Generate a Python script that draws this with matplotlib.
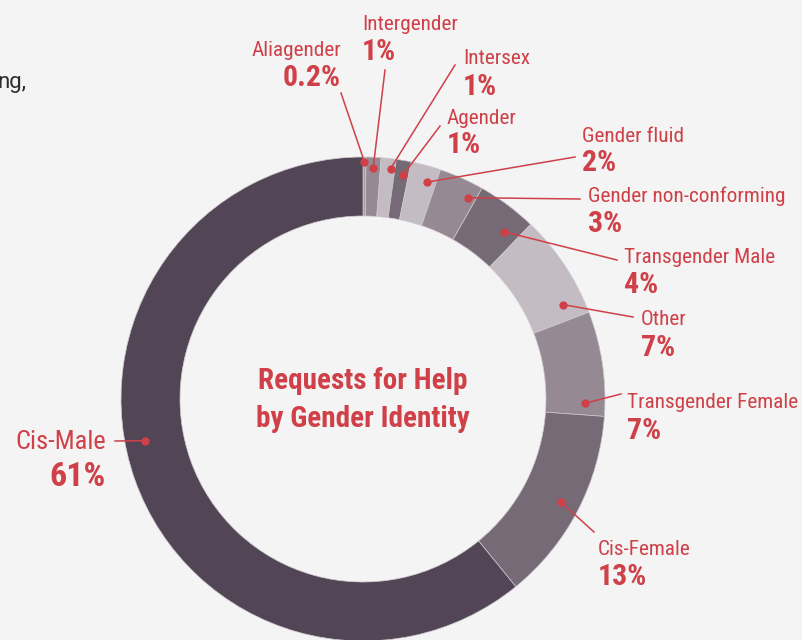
import numpy as np
import matplotlib
matplotlib.use("Agg")
from matplotlib import pyplot as plt
from matplotlib import font_manager

# data
labels = ['Aliagender', 'Intergender', 'Intersex', 'Agender', 'Gender fluid',
          'Gender non-conforming', 'Transgender Male', 'Other',
          'Transgender Female', 'Cis-Female', 'Cis-Male']
values = [0.2, 1, 1, 1, 2, 3, 4, 7, 7, 13, 61]
pct_text = ['0.2%', '1%', '1%', '1%', '2%', '3%', '4%', '7%', '7%', '13%', '61%']

colors = ['#a99fa8', '#958a93', '#c4bcc3', '#766a76', '#c4bcc3', '#958a93',
          '#766a76', '#c4bcc3', '#958a93', '#766a76', '#524656']

RED = '#cf4048'
BG = '#f3f4f3'
W, H = 803, 640

# pick a narrow face if one is installed
names = {f.name for f in font_manager.fontManager.ttflist}
FAM = [n for n in ['Liberation Sans Narrow', 'Roboto Condensed', 'Open Sans Condensed']
       if n in names] + ['Liberation Sans', 'DejaVu Sans']

# label layout (pixel coords, y from top):
# where on the wedge the dot sits (fraction along the sweep, radius),
# line end, text anchor x, alignment, name baseline, pct baseline, sizes
layout = [
    (0.5, 237, (341, 93), 341, 'right', 56, 86, 15.3, 21.5),
    (0.5, 231, (385, 70), 362, 'left', 30, 60, 15.3, 21.5),
    (0.7, 232, (455, 65), 463, 'left', 64, 95, 15.3, 21.5),
    (0.6, 227, (440, 126), 447, 'left', 124, 153, 15.3, 21.5),
    (0.68, 226, (575, 157), 582, 'left', 142, 171, 15.3, 21.5),
    (0.82, 227, (580, 199), 588, 'left', 202, 232, 15.3, 21.5),
    (0.75, 219, (617, 260), 624, 'left', 263, 293, 15.3, 21.5),
    (0.83, 221, (633, 317), 641, 'left', 325, 356, 15.3, 21.5),
    (0.88, 222, (621, 394), 627, 'left', 408, 439, 15.3, 21.5),
    (0.5, 223, (594, 532), 598, 'left', 555, 585, 15.3, 21.5),
    (0.54, 222, (115, 441), 106, 'right', 449, 486, 19, 24.5),
]

fig = plt.figure(figsize=(W / 100, H / 100), dpi=100, facecolor=BG)
ax = fig.add_axes([0, 0, 1, 1])
ax.set_facecolor(BG)

cx, cy = 363, H - 399
R = 242
wedges, _ = ax.pie(values, colors=colors, startangle=90, counterclock=False,
                   radius=R, center=(cx, cy),
                   wedgeprops=dict(width=59, linewidth=0.5, edgecolor='#cfc9ce'))

for w, lab, pct, lay in zip(wedges, labels, pct_text, layout):
    frac, r, (lx, ly), tx, ha, yb1, yb2, fs1, fs2 = lay
    ang = np.deg2rad(w.theta2 - frac * (w.theta2 - w.theta1))
    dx, dy = cx + r * np.cos(ang), cy + r * np.sin(ang)
    ax.plot([dx, lx], [dy, H - ly], color=RED, lw=1.1, zorder=5)
    ax.plot(dx, dy, 'o', color=RED, ms=5, zorder=6)
    ax.text(tx, H - yb1, lab, ha=ha, va='baseline', color=RED,
            fontsize=fs1, family=FAM)
    ax.text(tx, H - yb2, pct, ha=ha, va='baseline', color=RED,
            fontsize=fs2, fontweight='bold', family=FAM)

ax.text(cx, H - 389, 'Requests for Help', ha='center', va='baseline',
        color=RED, fontsize=21, fontweight='bold', family=FAM)
ax.text(cx, H - 427, 'by Gender Identity', ha='center', va='baseline',
        color=RED, fontsize=21, fontweight='bold', family=FAM)

# leftover of the page paragraph
ax.text(-3, H - 88, 'ng,', ha='left', va='baseline', color='#2e2e2e',
        fontsize=16, family=['Roboto', 'DejaVu Sans'])

ax.set_xlim(0, W)
ax.set_ylim(0, H)
ax.set_aspect('equal')
ax.set_axis_off()

fig.savefig('out.png', dpi=100, facecolor=BG)
